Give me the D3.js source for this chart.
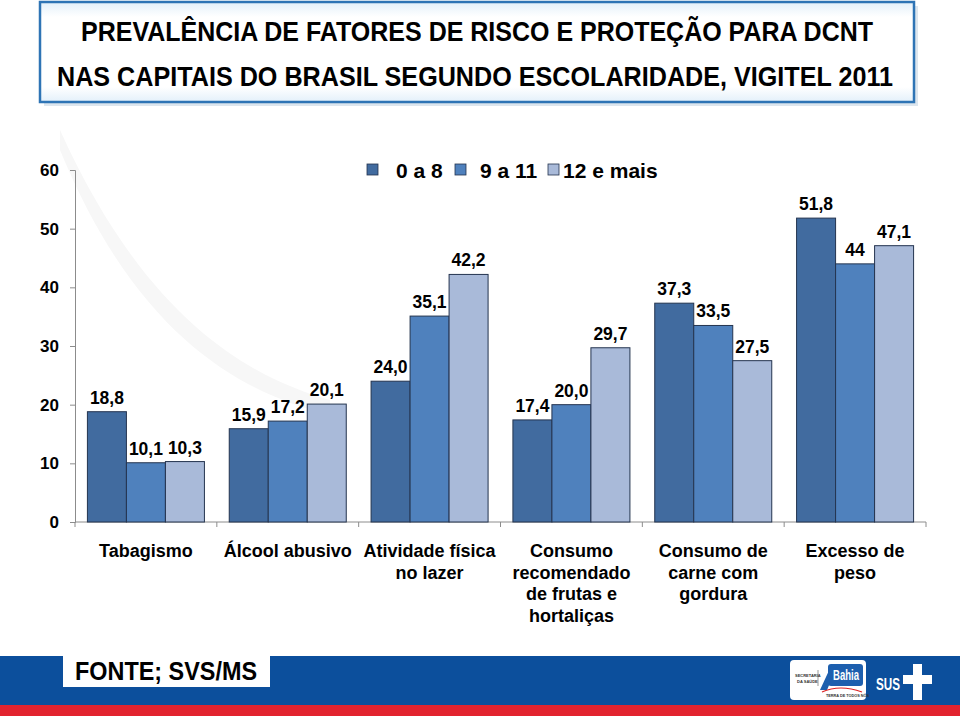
<!DOCTYPE html>
<html><head><meta charset="utf-8">
<script src="https://cdn.jsdelivr.net/npm/d3@7"></script>
<style>body{margin:0;background:#fff}svg{display:block}</style>
</head><body>
<script>
const categories = [["Tabagismo"],["Álcool abusivo"],["Atividade física","no lazer"],["Consumo","recomendado","de frutas e","hortaliças"],["Consumo de","carne com","gordura"],["Excesso de","peso"]];
const seriesNames = ["0 a 8","9 a 11","12 e mais"];
const s0a8 = [18.8,15.9,24.0,17.4,37.3,51.8];
const s9a11 = [10.1,17.2,35.1,20.0,33.5,44];
const s12 = [10.3,20.1,42.2,29.7,27.5,47.1];
const labels0 = ["18,8","15,9","24,0","17,4","37,3","51,8"];
const labels1 = ["10,1","17,2","35,1","20,0","33,5","44"];
const labels2 = ["10,3","20,1","42,2","29,7","27,5","47,1"];
const yTicks = [0,10,20,30,40,50,60];
const colors = ["#416b9f","#4f81bd","#a9bad9"];

const W=960,H=716;
const svg=d3.select("body").append("svg").attr("width",W).attr("height",H);
const font="'Liberation Sans', Arial, sans-serif";
const narrow="'Liberation Sans Narrow','Arial Narrow','Liberation Sans',sans-serif";

// faint swoosh background
svg.append("path").attr("d","M60,130 C150,330 260,380 330,400 L330,415 C250,395 140,345 60,150 Z").attr("fill","#f7f7f7");

// title box
const defs=svg.append("defs");
const lg=defs.append("linearGradient").attr("id","tb").attr("x1",0).attr("y1",0).attr("x2",0).attr("y2",1);
lg.append("stop").attr("offset","0").attr("stop-color","#e3f0fa");
lg.append("stop").attr("offset","0.15").attr("stop-color","#ffffff");
lg.append("stop").attr("offset","0.85").attr("stop-color","#ffffff");
lg.append("stop").attr("offset","1").attr("stop-color","#e3f0fa");
svg.append("rect").attr("x",44).attr("y",6).attr("width",874).attr("height",100).attr("fill","#dde6ee");
svg.append("rect").attr("x",40).attr("y",2).attr("width",874).attr("height",100).attr("fill","url(#tb)").attr("stroke","#2e74b5").attr("stroke-width",2.5);
svg.append("text").attr("transform","translate(477,41) scale(1,1.15)").attr("text-anchor","middle").attr("font-family",narrow).attr("font-weight","bold").attr("font-size",24).attr("textLength",792).attr("lengthAdjust","spacingAndGlyphs").text("PREVALÊNCIA DE FATORES DE RISCO E PROTEÇÃO PARA DCNT");
svg.append("text").attr("transform","translate(475,86) scale(1,1.15)").attr("text-anchor","middle").attr("font-family",narrow).attr("font-weight","bold").attr("font-size",24).attr("textLength",836).attr("lengthAdjust","spacingAndGlyphs").text("NAS CAPITAIS DO BRASIL SEGUNDO ESCOLARIDADE,  VIGITEL 2011");

// scales
const x0=d3.scaleBand().domain(d3.range(6)).range([75,926]).paddingInner(0.175).paddingOuter(0.0875);
const x1=d3.scaleBand().domain(d3.range(3)).range([0,x0.bandwidth()]);
const y=d3.scaleLinear().domain([0,60]).range([522,170]);

// y axis
const ya=svg.append("g").attr("transform","translate(75,0)").call(d3.axisLeft(y).tickValues(yTicks).tickSize(5).tickPadding(11).tickFormat(d3.format("d")));
ya.selectAll("path,line").attr("stroke","#8c8c8c");
ya.selectAll("text").attr("font-family",font).attr("font-weight","bold").attr("font-size",17).attr("fill","#000");

// x axis
const step=(926-75)/6;
svg.append("line").attr("x1",75).attr("x2",926).attr("y1",522).attr("y2",522).attr("stroke","#8c8c8c");
svg.selectAll(".xt").data(d3.range(7)).enter().append("line").attr("x1",d=>75+d*step).attr("x2",d=>75+d*step).attr("y1",522).attr("y2",527).attr("stroke","#8c8c8c");

// bars
const series=[s0a8,s9a11,s12];
const labs=[labels0,labels1,labels2];
series.forEach((s,si)=>{
  const g=svg.append("g");
  g.selectAll("rect").data(s).enter().append("rect")
   .attr("x",(d,i)=>x0(i)+x1(si)).attr("y",d=>y(d)).attr("width",x1.bandwidth()).attr("height",d=>y(0)-y(d))
   .attr("fill",colors[si]).attr("stroke","#24344f").attr("stroke-width",1);
  g.selectAll("text").data(s).enter().append("text")
   .attr("x",(d,i)=>x0(i)+x1(si)+x1.bandwidth()/2).attr("y",d=>y(d)-8)
   .attr("text-anchor","middle").attr("font-family",font).attr("font-weight","bold").attr("font-size",17.5)
   .text((d,i)=>labs[si][i]);
});

// category labels
categories.forEach((lines,i)=>{
  const t=svg.append("text").attr("x",75+step*(i+0.5)).attr("text-anchor","middle").attr("font-family",font).attr("font-weight","bold").attr("font-size",18);
  lines.forEach((l,k)=>t.append("tspan").attr("x",75+step*(i+0.5)).attr("y",557+k*21.7).text(l));
});

// legend
const legX=[367,455,548], legT=[396,480,563];
seriesNames.forEach((n,i)=>{
  svg.append("rect").attr("x",legX[i]).attr("y",164).attr("width",11).attr("height",11).attr("fill",colors[i]).attr("stroke","#24344f").attr("stroke-width",0.8);
  svg.append("text").attr("x",legT[i]).attr("y",178).attr("font-family",font).attr("font-weight","bold").attr("font-size",21).text(n);
});

// bottom banner
svg.append("rect").attr("x",0).attr("y",656).attr("width",W).attr("height",50).attr("fill","#0c4f9c");
svg.append("rect").attr("x",0).attr("y",705).attr("width",W).attr("height",11).attr("fill","#e2232f");
svg.append("rect").attr("x",63).attr("y",656).attr("width",207).attr("height",31).attr("fill","#fff");
svg.append("text").attr("x",75).attr("y",680).attr("font-family",narrow).attr("font-weight","bold").attr("font-size",25).attr("textLength",182).attr("lengthAdjust","spacingAndGlyphs").text("FONTE; SVS/MS");
// logos
svg.append("rect").attr("x",790).attr("y",660).attr("width",76).attr("height",40).attr("rx",4).attr("fill","#fff");
svg.append("text").attr("x",795).attr("y",677).attr("font-family",font).attr("font-size",4).attr("font-weight","bold").attr("fill","#333").text("SECRETARIA");
svg.append("text").attr("x",797).attr("y",683).attr("font-family",font).attr("font-size",4).attr("font-weight","bold").attr("fill","#333").text("DA SAÚDE");
svg.append("line").attr("x1",818).attr("x2",818).attr("y1",670).attr("y2",686).attr("stroke","#555").attr("stroke-width",0.6);
svg.append("rect").attr("x",828).attr("y",664).attr("width",35).attr("height",22).attr("rx",3).attr("fill","#1d5fae");
svg.append("path").attr("d","M820,690 L832,664 L838,664 L827,690 Z").attr("fill","#1d5fae");
svg.append("path").attr("d","M822,692 Q840,684 862,692").attr("fill","none").attr("stroke","#d22").attr("stroke-width",1.2);
svg.append("text").attr("x",833).attr("y",680).attr("font-family",narrow).attr("font-weight","bold").attr("font-size",14).attr("textLength",26).attr("lengthAdjust","spacingAndGlyphs").attr("fill","#fff").text("Bahia");
svg.append("text").attr("x",826).attr("y",697).attr("font-family",font).attr("font-size",3.8).attr("font-weight","bold").attr("fill","#333").text("TERRA DE TODOS NÓS");
svg.append("text").attr("x",876).attr("y",690).attr("font-family",narrow).attr("font-weight","bold").attr("font-size",16).attr("textLength",24).attr("lengthAdjust","spacingAndGlyphs").attr("fill","#fff").text("SUS");
svg.append("path").attr("d","M913,664 h9 v11 h10 v9 h-10 v16 h-9 v-16 h-10 v-9 h10 Z").attr("fill","#fff");
</script>
</body></html>
